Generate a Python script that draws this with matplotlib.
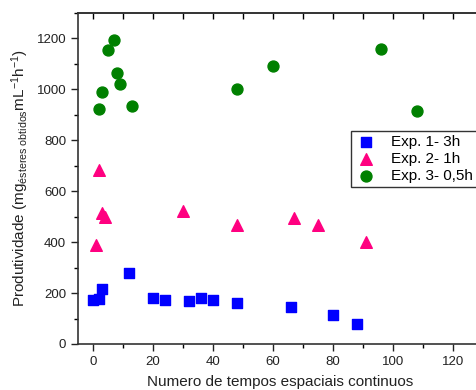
import numpy as np
import matplotlib.pyplot as plt
from matplotlib.ticker import MultipleLocator

plt.rcParams['font.family'] = ['Liberation Sans', 'DejaVu Sans']
plt.rcParams['mathtext.fontset'] = 'custom'
plt.rcParams['mathtext.rm'] = 'Liberation Sans'
plt.rcParams['mathtext.it'] = 'Liberation Sans'

# Exp. 1 - 3h
x1 = [0, 2, 3, 12, 20, 24, 32, 36, 40, 48, 66, 80, 88]
y1 = [172, 175, 214, 277, 180, 174, 169, 179, 174, 162, 146, 114, 80]

# Exp. 2 - 1h
x2 = [1, 2, 3, 4, 30, 48, 67, 75, 91]
y2 = [387, 685, 516, 497, 521, 467, 493, 469, 401]

# Exp. 3 - 0,5h
x3 = [2, 3, 5, 7, 8, 9, 13, 48, 60, 96, 108]
y3 = [924, 988, 1153, 1195, 1064, 1021, 936, 1000, 1092, 1158, 915]

fig = plt.figure(figsize=(4.76, 3.9), dpi=100)
ax = fig.add_axes([0.164, 0.118, 0.851, 0.849])

ax.scatter(x1, y1, marker='s', s=48, color='#0000FF', label='Exp. 1- 3h', zorder=3)
ax.scatter(x2, y2, marker='^', s=70, color='#FF0080', label='Exp. 2- 1h', zorder=3)
ax.scatter(x3, y3, marker='o', s=62, color='#008000', label='Exp. 3- 0,5h', zorder=3)

ax.set_xlim(-5, 130)
ax.set_ylim(0, 1300)
ax.xaxis.set_major_locator(MultipleLocator(20))
ax.xaxis.set_minor_locator(MultipleLocator(10))
ax.yaxis.set_major_locator(MultipleLocator(200))
ax.yaxis.set_minor_locator(MultipleLocator(100))
ax.tick_params(axis='both', which='major', direction='out', length=5, width=1, labelsize=9.5, colors='#222222')
ax.tick_params(axis='both', which='minor', direction='out', length=3, width=1)
for sp in ax.spines.values():
    sp.set_linewidth(1.2)
    sp.set_color('#333333')
ax.spines['right'].set_visible(False)

# top axis: ticks pointing inward, no labels
top = ax.secondary_xaxis('top')
top.xaxis.set_major_locator(MultipleLocator(10))
top.tick_params(direction='in', length=4, width=1, labeltop=False)
top.spines['top'].set_linewidth(1.2)
top.spines['top'].set_color('#333333')

ax.set_xlabel('Numero de tempos espaciais continuos', fontsize=11, labelpad=5, color='#222222')
ax.set_ylabel(r'Produtividade (mg$_{\mathrm{ésteres\ obtidos}}$mL$^{\mathrm{-1}}$h$^{\mathrm{-1}}$)',
              fontsize=11, labelpad=4, color='#222222')

leg = ax.legend(loc='upper left', bbox_to_anchor=(0.673, 0.644), fontsize=11, frameon=True,
                fancybox=False, edgecolor='black', borderpad=0.25, labelspacing=0.22,
                handletextpad=0.9, borderaxespad=0, handlelength=1.5)
leg.get_frame().set_linewidth(1.0)

fig.savefig('out.png', dpi=100)
